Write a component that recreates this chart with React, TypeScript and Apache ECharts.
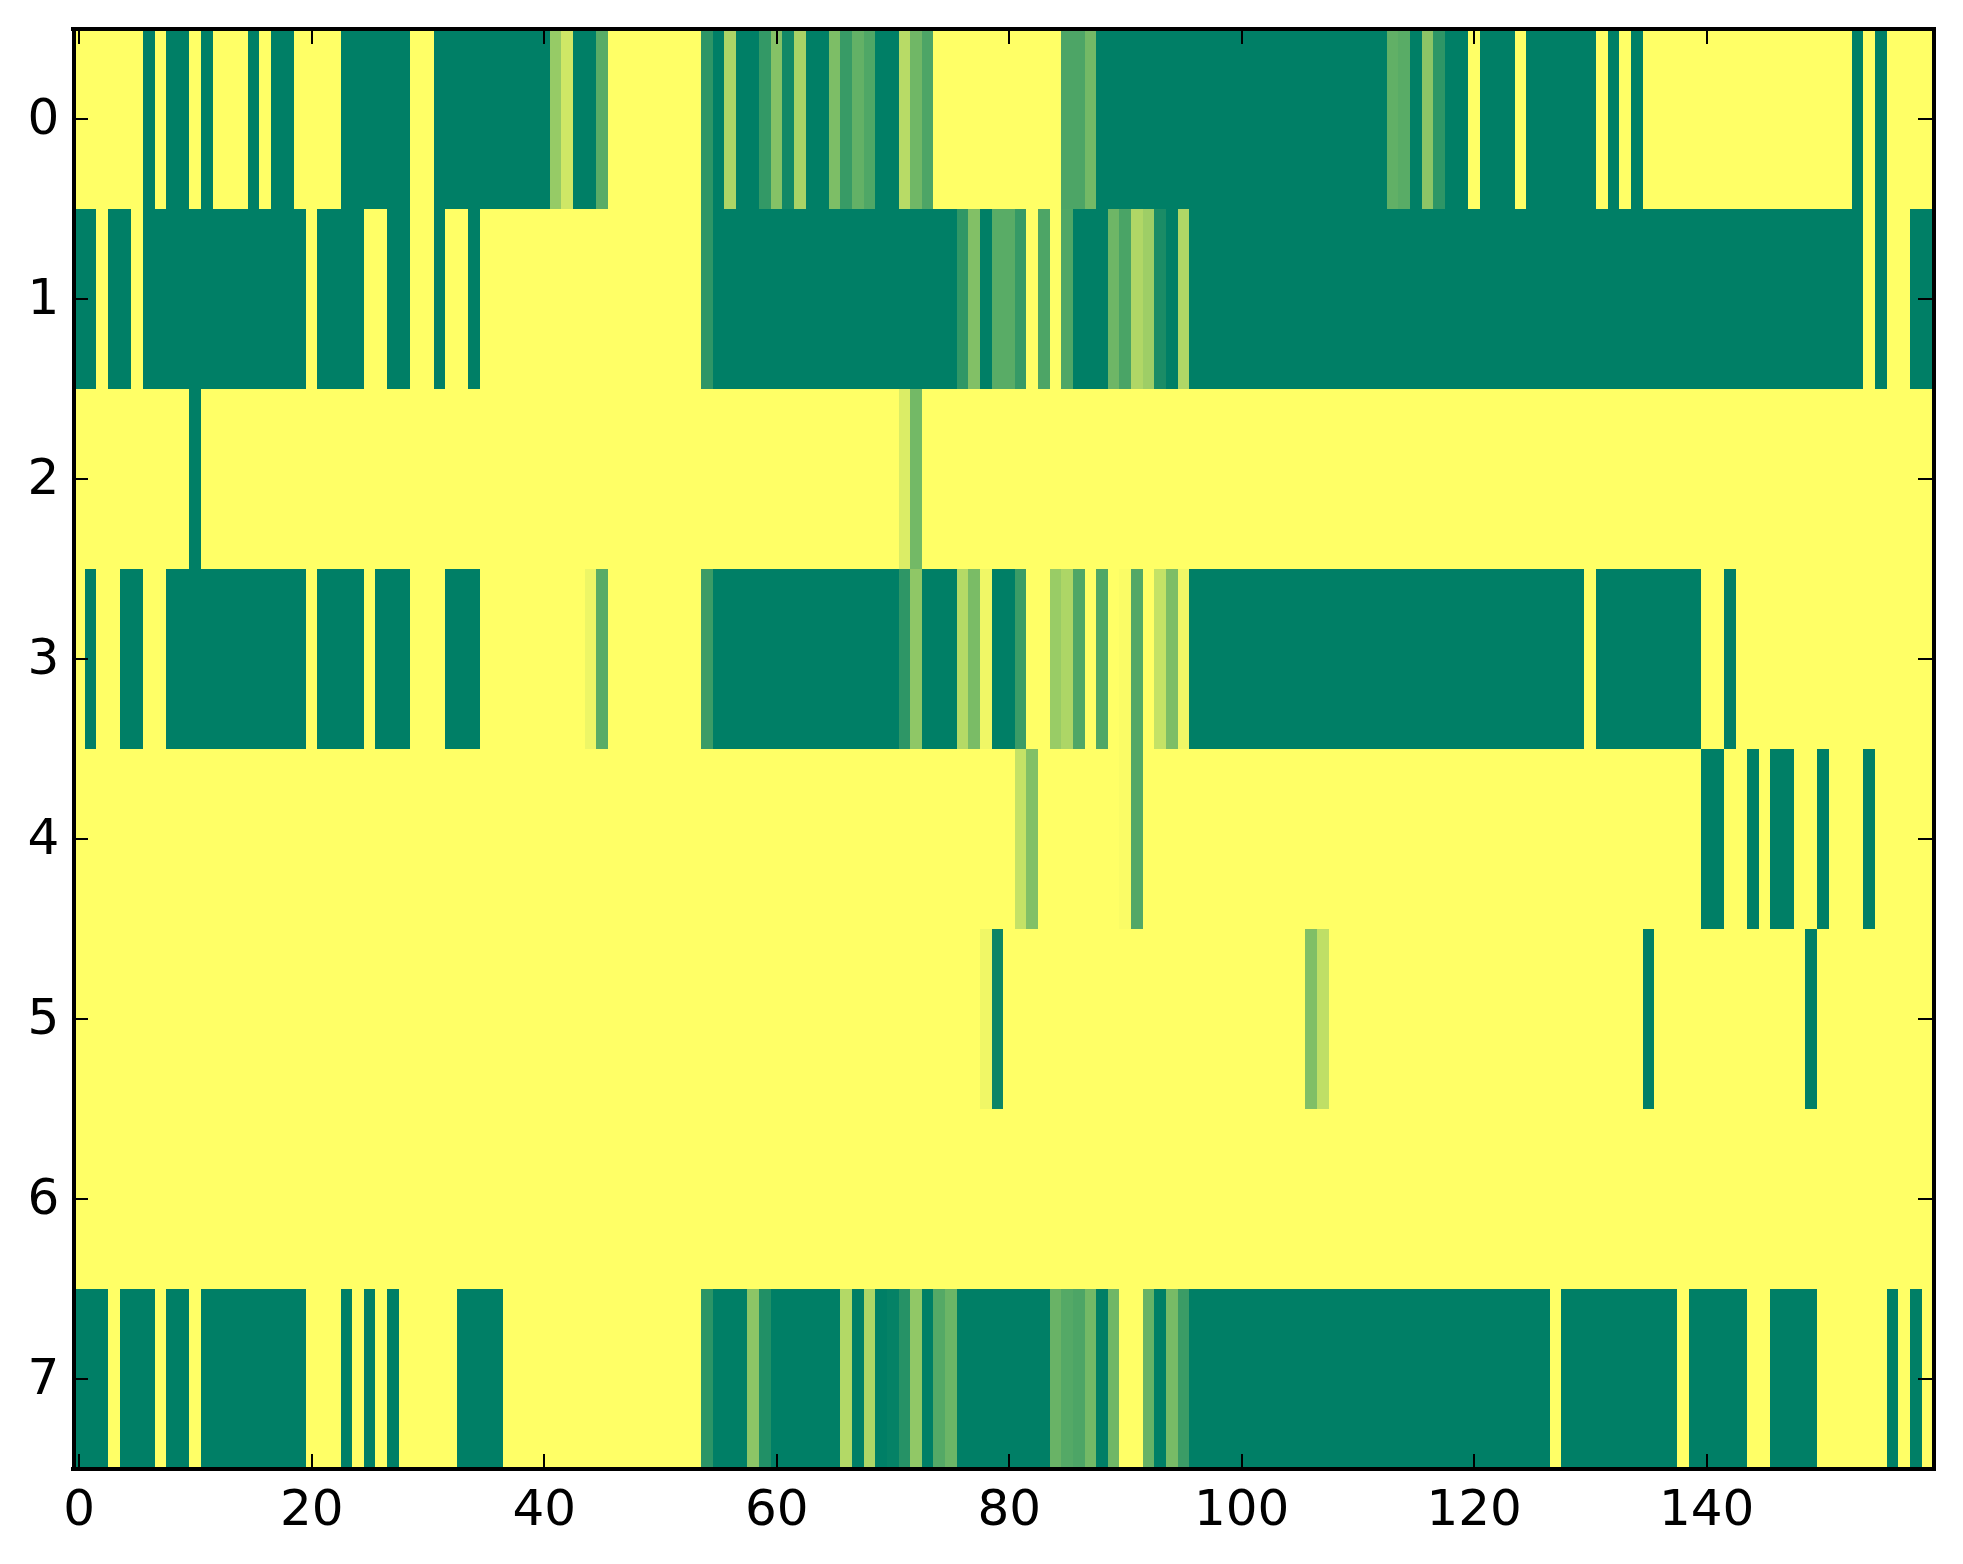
import React, { useEffect, useRef } from "react";
import * as echarts from "echarts";

const row0 = [
  0,0,0,0,0,0,1,0,1,1,0,1,0,0,0,1,0,1,1,0,
  0,0,0,1,1,1,1,1,1,0,0,1,1,1,1,1,1,1,1,1,
  1,.41,.19,1,1,.65,0,0,0,0,0,0,0,0,.82,1,.33,1,1,.8,
  .48,.93,.34,1,1,.51,.78,.61,.69,1,1,.28,.56,.7,0,0,0,0,0,0,
  0,0,0,0,0,.7,.7,.55,1,1,1,1,1,1,1,1,1,1,1,1,
  1,1,1,1,1,1,1,1,1,1,1,1,1,.62,.65,1,.45,.82,1,1,
  0,1,1,1,0,1,1,1,1,1,1,0,1,0,1,0,0,0,0,0,
  0,0,0,0,0,0,0,0,0,0,0,0,0,1,0,1,0,0,0,0,
];
const row1 = [
  1,1,0,1,1,0,1,1,1,1,1,1,1,1,1,1,1,1,1,1,
  0,1,1,1,1,0,0,1,1,0,0,1,0,0,1,0,0,0,0,0,
  0,0,0,0,0,0,0,0,0,0,0,0,0,0,.82,1,1,1,1,1,
  1,1,1,1,1,1,1,1,1,1,1,1,1,1,1,1,.81,.49,1,.65,
  .65,.79,0,.7,0,.69,1,1,1,.57,.71,.31,.38,.9,1,.31,1,1,1,1,
  1,1,1,1,1,1,1,1,1,1,1,1,1,1,1,1,1,1,1,1,
  1,1,1,1,1,1,1,1,1,1,1,1,1,1,1,1,1,1,1,1,
  1,1,1,1,1,1,1,1,1,1,1,1,1,1,0,1,0,0,1,1,
];
const row2 = [
  0,0,0,0,0,0,0,0,0,0,1,0,0,0,0,0,0,0,0,0,
  0,0,0,0,0,0,0,0,0,0,0,0,0,0,0,0,0,0,0,0,
  0,0,0,0,0,0,0,0,0,0,0,0,0,0,0,0,0,0,0,0,
  0,0,0,0,0,0,0,0,0,0,0,.14,.55,0,0,0,0,0,0,0,
  0,0,0,0,0,0,0,0,0,0,0,0,0,0,0,0,0,0,0,0,
  0,0,0,0,0,0,0,0,0,0,0,0,0,0,0,0,0,0,0,0,
  0,0,0,0,0,0,0,0,0,0,0,0,0,0,0,0,0,0,0,0,
  0,0,0,0,0,0,0,0,0,0,0,0,0,0,0,0,0,0,0,0,
];
const row3 = [
  0,1,0,0,1,1,0,0,1,1,1,1,1,1,1,1,1,1,1,1,
  0,1,1,1,1,0,1,1,1,0,0,0,1,1,1,0,0,0,0,0,
  0,0,0,0,.07,.65,0,0,0,0,0,0,0,0,.77,1,1,1,1,1,
  1,1,1,1,1,1,1,1,1,1,1,.82,.44,1,1,1,.29,.52,.06,1,
  1,.77,0,0,.4,.32,.69,0,.69,0,.02,.68,0,.23,.51,.06,1,1,1,1,
  1,1,1,1,1,1,1,1,1,1,1,1,1,1,1,1,1,1,1,1,
  1,1,1,1,1,1,1,1,1,1,0,1,1,1,1,1,1,1,1,1,
  0,0,1,0,0,0,0,0,0,0,0,0,0,0,0,0,0,0,0,0,
];
const row4 = [
  0,0,0,0,0,0,0,0,0,0,0,0,0,0,0,0,0,0,0,0,
  0,0,0,0,0,0,0,0,0,0,0,0,0,0,0,0,0,0,0,0,
  0,0,0,0,0,0,0,0,0,0,0,0,0,0,0,0,0,0,0,0,
  0,0,0,0,0,0,0,0,0,0,0,0,0,0,0,0,0,0,0,0,
  0,.23,.49,0,0,0,0,0,0,0,.02,.68,0,0,0,0,0,0,0,0,
  0,0,0,0,0,0,0,0,0,0,0,0,0,0,0,0,0,0,0,0,
  0,0,0,0,0,0,0,0,0,0,0,0,0,0,0,0,0,0,0,0,
  1,1,0,0,1,0,1,1,0,0,1,0,0,0,1,0,0,0,0,0,
];
const row5 = [
  0,0,0,0,0,0,0,0,0,0,0,0,0,0,0,0,0,0,0,0,
  0,0,0,0,0,0,0,0,0,0,0,0,0,0,0,0,0,0,0,0,
  0,0,0,0,0,0,0,0,0,0,0,0,0,0,0,0,0,0,0,0,
  0,0,0,0,0,0,0,0,0,0,0,0,0,0,0,0,0,0,.06,.95,
  0,0,0,0,0,0,0,0,0,0,0,0,0,0,0,0,0,0,0,0,
  0,0,0,0,0,0,.5,.25,0,0,0,0,0,0,0,0,0,0,0,0,
  0,0,0,0,0,0,0,0,0,0,0,0,0,0,0,1,0,0,0,0,
  0,0,0,0,0,0,0,0,0,1,0,0,0,0,0,0,0,0,0,0,
];
const row6 = [
  0,0,0,0,0,0,0,0,0,0,0,0,0,0,0,0,0,0,0,0,
  0,0,0,0,0,0,0,0,0,0,0,0,0,0,0,0,0,0,0,0,
  0,0,0,0,0,0,0,0,0,0,0,0,0,0,0,0,0,0,0,0,
  0,0,0,0,0,0,0,0,0,0,0,0,0,0,0,0,0,0,0,0,
  0,0,0,0,0,0,0,0,0,0,0,0,0,0,0,0,0,0,0,0,
  0,0,0,0,0,0,0,0,0,0,0,0,0,0,0,0,0,0,0,0,
  0,0,0,0,0,0,0,0,0,0,0,0,0,0,0,0,0,0,0,0,
  0,0,0,0,0,0,0,0,0,0,0,0,0,0,0,0,0,0,0,0,
];
const row7 = [
  1,1,1,0,1,1,1,0,1,1,0,1,1,1,1,1,1,1,1,1,
  0,0,0,1,0,1,0,1,0,0,0,0,0,1,1,1,1,0,0,0,
  0,0,0,0,0,0,0,0,0,0,0,0,0,0,.83,1,1,1,.45,.87,
  1,1,1,1,1,1,.3,1,.32,1,.98,.85,.43,1,.67,.58,1,1,1,1,
  1,1,1,1,.59,.67,.7,.55,1,.56,0,0,.6,1,.53,.77,1,1,1,1,
  1,1,1,1,1,1,1,1,1,1,1,1,1,1,1,1,1,1,1,1,
  1,1,1,1,1,1,1,0,1,1,1,1,1,1,1,1,1,1,0,1,
  1,1,1,1,0,0,1,1,1,1,0,0,0,0,0,0,1,0,1,0,
];

const rows = [row0, row1, row2, row3, row4, row5, row6, row7];
const yCategories = ["0", "1", "2", "3", "4", "5", "6", "7"];
const xCategories = row0.map((_, i) => String(i));
const X_TICK_STEP = 20;

const font = { fontFamily: "DejaVu Sans", fontSize: 50, color: "#000" };
const line = { show: true, onZero: false, lineStyle: { color: "#000", width: 4, cap: "square" as const } };
const tick = { show: true, inside: true, length: 15, lineStyle: { color: "#000", width: 2 }, alignWithLabel: true };
const everyTwenty = (i: number) => i % X_TICK_STEP === 0;

export default function App() {
  const ref = useRef<HTMLDivElement>(null);
  useEffect(() => {
    document.body.style.margin = "0";
    const chart = echarts.init(ref.current!, null, { renderer: "svg" });
    const data: number[][] = [];
    rows.forEach((r, y) => r.forEach((v, x) => data.push([x, y, v])));
    chart.setOption({
      animation: false,
      backgroundColor: "#fff",
      grid: { left: 73.4, top: 29, width: 1860, height: 1440, show: false },
      visualMap: {
        show: false,
        min: 0,
        max: 1,
        dimension: 2,
        inRange: { color: ["#ffff66", "#007f66"] },
      },
      xAxis: [
        {
          type: "category",
          position: "bottom",
          data: xCategories,
          z: 10,
          axisLine: line,
          axisTick: { ...tick, interval: everyTwenty },
          axisLabel: { ...font, interval: everyTwenty, margin: 14 },
          splitLine: { show: false },
        },
        {
          type: "category",
          position: "top",
          data: xCategories,
          z: 10,
          axisLine: line,
          axisTick: { ...tick, interval: everyTwenty },
          axisLabel: { show: false },
          splitLine: { show: false },
        },
      ],
      yAxis: [
        {
          type: "category",
          position: "left",
          inverse: true,
          data: yCategories,
          z: 10,
          axisLine: line,
          axisTick: { ...tick, interval: 0 },
          axisLabel: { ...font, interval: 0, margin: 14, verticalAlign: "bottom", lineHeight: 5 },
          splitLine: { show: false },
        },
        {
          type: "category",
          position: "right",
          inverse: true,
          data: yCategories,
          z: 10,
          axisLine: line,
          axisTick: { ...tick, interval: 0 },
          axisLabel: { show: false },
          splitLine: { show: false },
        },
      ],
      series: [
        {
          type: "heatmap",
          xAxisIndex: 0,
          yAxisIndex: 0,
          data,
          progressive: 0,
          itemStyle: { borderWidth: 0 },
          emphasis: { disabled: true },
        },
      ],
    });
    // The reference is a nearest-neighbour image: no anti-aliased seams between cells.
    ref.current!.querySelector("svg")?.setAttribute("shape-rendering", "crispEdges");
    return () => chart.dispose();
  }, []);
  return <div ref={ref} style={{ position: "absolute", left: 0, top: 0, width: 1963, height: 1564 }} />;
}
